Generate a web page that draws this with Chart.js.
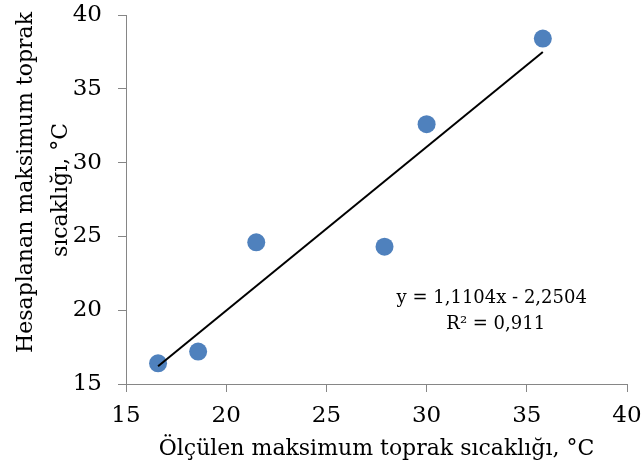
<!DOCTYPE html>
<html>
  <head>
    <script src="https://cdn.jsdelivr.net/npm/chart.js@4.4.1/dist/chart.umd.min.js"></script>
    <style>
      html, body { margin: 0; padding: 0; background: #fff; }
      #wrap { width: 641px; height: 462px; }
    </style>
  </head>

  <body>
    <div id="wrap">
      <canvas id="canvas" width="641" height="462"></canvas>
    </div>
    <script>
      // measured vs calculated max soil temperature
      const measured = [16.6, 18.6, 21.5, 27.9, 30.0, 35.8];
      const calculated = [16.4, 17.2, 24.6, 24.3, 32.6, 38.4];
      // linear trendline end points
      const trendX = [16.6, 35.8];
      const trendY = [16.2, 37.5];
      const equationLines = ['y = 1,1104x - 2,2504', 'R² = 0,911'];
      const xTitle = 'Ölçülen maksimum toprak sıcaklığı, °C';
      const yTitleLines = ['Hesaplanan maksimum toprak', 'sıcaklığı, °C'];

      const FONT = 'DejaVu Serif';
      const AXIS = '#868686';

      const labelsPlugin = {
        id: 'labels',
        afterDraw(chart) {
          const ctx = chart.ctx;
          const xs = chart.scales.x;
          const ys = chart.scales.y;
          ctx.save();
          ctx.fillStyle = '#000';
          ctx.textAlign = 'center';
          ctx.textBaseline = 'alphabetic';
          // trendline equation
          ctx.font = '18px "' + FONT + '"';
          ctx.fillText(equationLines[0], xs.getPixelForValue(33.25), ys.getPixelForValue(20.5));
          ctx.fillText(equationLines[1], xs.getPixelForValue(33.45), ys.getPixelForValue(18.75));
          // rotated y title
          ctx.font = '22px "' + FONT + '"';
          const pos = [[32, 182.5], [67, 190]];
          yTitleLines.forEach((t, i) => {
            ctx.save();
            ctx.translate(pos[i][0], pos[i][1]);
            ctx.rotate(-Math.PI / 2);
            ctx.fillText(t, 0, 0);
            ctx.restore();
          });
          ctx.restore();
        },
      };

      new Chart(document.getElementById('canvas').getContext('2d'), {
        type: 'scatter',
        data: {
          datasets: [
            {
              data: measured.map((x, i) => ({ x: x, y: calculated[i] })),
              backgroundColor: '#4F81BD',
              borderWidth: 0,
              pointRadius: 9,
              pointHoverRadius: 9,
              order: 1,
            },
            {
              type: 'line',
              data: trendX.map((x, i) => ({ x: x, y: trendY[i] })),
              borderColor: '#000',
              borderWidth: 2,
              pointRadius: 0,
              fill: false,
              order: 0,
            },
          ],
        },
        options: {
          responsive: false,
          animation: false,
          events: [],
          layout: {
            padding: { top: 15, left: 0, right: 14, bottom: 0 },
          },
          plugins: {
            legend: { display: false },
            tooltip: { enabled: false },
          },
          scales: {
            x: {
              type: 'linear',
              min: 15,
              max: 40,
              afterFit: (s) => {
                s.height = 78;
                s.paddingLeft = 0;
                s.paddingRight = 0;
              },
              ticks: {
                stepSize: 5,
                padding: 10,
                color: '#000',
                font: { family: FONT, size: 23 },
              },
              grid: {
                drawOnChartArea: false,
                tickLength: 8,
                color: AXIS,
              },
              border: { color: AXIS, width: 1 },
              title: {
                display: true,
                text: xTitle,
                color: '#000',
                font: { family: FONT, size: 22 },
                padding: { top: 0, bottom: 0 },
              },
            },
            y: {
              type: 'linear',
              min: 15,
              max: 40,
              afterFit: (s) => {
                s.width = 126;
                s.paddingTop = 0;
                s.paddingBottom = 0;
              },
              ticks: {
                stepSize: 5,
                padding: 16,
                color: '#000',
                font: { family: FONT, size: 23 },
              },
              grid: {
                drawOnChartArea: false,
                tickLength: 8,
                color: AXIS,
              },
              border: { color: AXIS, width: 1 },
            },
          },
        },
        plugins: [labelsPlugin],
      });
    </script>
  </body>
</html>
